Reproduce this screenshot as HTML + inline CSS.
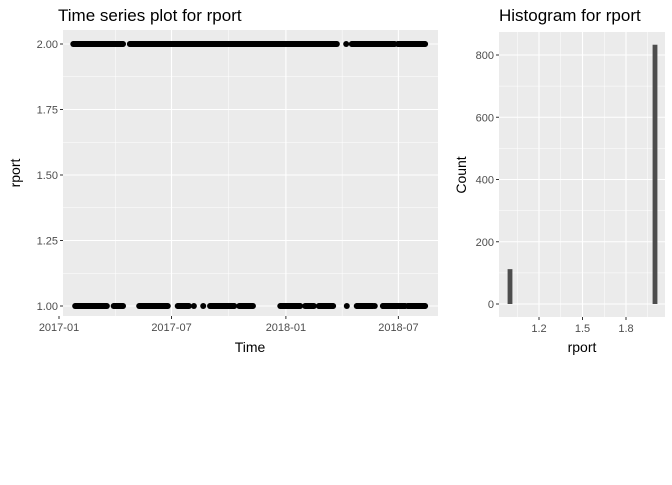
<!DOCTYPE html>
<html><head><meta charset="utf-8"><style>
body{margin:0;background:#fff;font-family:"Liberation Sans",sans-serif}
svg text{font-family:"Liberation Sans",sans-serif}
</style></head><body>
<svg id="c" width="672" height="480" xmlns="http://www.w3.org/2000/svg"></svg>
<script>
// Time series data: runs of daily observations as [startDay, endDay] (days since 2017-01-01)
const runsTop = [[23,103],[114,447],[462,462],[471,540],[545,589]];
const runsBottom = [[26,77],[88,103],[129,175],[191,209],[217,217],[232,232],[243,282],[290,312],[356,388],[396,410],[418,441],[463,463],[479,505],[508,508],[521,557],[561,589]];
const levelTop = 2, levelBottom = 1;
const yTicks = [1.00,1.25,1.50,1.75,2.00];
const xTickLabels = ["2017-01","2017-07","2018-01","2018-07"];
const xTickDays = [0,181,365,546];
// Histogram data
const histCats = [1, 2];
const histCounts = [112, 833];
const histYTicks = [0,200,400,600,800];
const histXTicks = [1.2,1.5,1.8];

const svg=document.getElementById('c');
const NS='http://www.w3.org/2000/svg';
function mk(t,a,p){const e=document.createElementNS(NS,t);for(const k in a)e.setAttribute(k,a[k]);(p||svg).appendChild(e);return e;}
function txt(s,a,p){const e=mk('text',a,p);e.textContent=s;return e;}

// ---- left panel
const L={x0:63,x1:438,y0:30,y1:316};
const xs=d=>59+d*0.6216;
const ys=v=>306-(v-1)*262;
const g1=mk('g',{});


mk('rect',{x:L.x0,y:L.y0,width:L.x1-L.x0,height:L.y1-L.y0,fill:'#ebebeb'},g1);
for(let i=0;i<yTicks.length-1;i++){const y=ys((yTicks[i]+yTicks[i+1])/2);mk('line',{x1:L.x0,x2:L.x1,y1:y,y2:y,stroke:'#fff','stroke-width':0.5},g1);}
for(let i=0;i<xTickDays.length-1;i++){const x=xs((xTickDays[i]+xTickDays[i+1])/2);mk('line',{x1:x,x2:x,y1:L.y0,y2:L.y1,stroke:'#fff','stroke-width':0.5},g1);}
yTicks.forEach(v=>{const y=ys(v);mk('line',{x1:L.x0,x2:L.x1,y1:y,y2:y,stroke:'#fff','stroke-width':1.1},g1);
 mk('line',{x1:L.x0-3,x2:L.x0,y1:y,y2:y,stroke:'#333'},g1);
 const t=txt(v.toFixed(2),{x:L.x0-5,y:y+4,'text-anchor':'end','font-size':11,fill:'#4d4d4d'},g1);
 });
xTickDays.forEach((d,i)=>{const x=xs(d);mk('line',{x1:x,x2:x,y1:L.y0,y2:L.y1,stroke:'#fff','stroke-width':1.1},g1);
 mk('line',{x1:x,x2:x,y1:L.y1,y2:L.y1+3,stroke:'#333'},g1);
 const t=txt(xTickLabels[i],{x:x,y:L.y1+15,'text-anchor':'middle','font-size':11,fill:'#4d4d4d'},g1);
 });
function drawRuns(runs,lvl){runs.forEach(r=>{for(let d=r[0];d<=r[1];d++){const c=mk('circle',{cx:xs(d),cy:ys(lvl),r:3,fill:'#000'},g1);
 }});}
drawRuns(runsTop,levelTop);drawRuns(runsBottom,levelBottom);
let t=txt('Time series plot for rport',{x:58,y:21,'font-size':17,fill:'#000'});
t=txt('Time',{x:250,y:352,'text-anchor':'middle','font-size':14,fill:'#000'});
t=txt('rport',{x:0,y:0,'text-anchor':'middle','font-size':14,fill:'#000',transform:'translate(20,173) rotate(-90)'});

// ---- histogram
const H={x0:499,x1:665,y0:32,y1:317};
const hx=v=>510+(v-1)*145;
const hy=c=>304-c*(249/800);
const g2=mk('g',{});


mk('rect',{x:H.x0,y:H.y0,width:H.x1-H.x0,height:H.y1-H.y0,fill:'#ebebeb'},g2);
for(let i=0;i<histYTicks.length;i++){const y=hy(histYTicks[i]+100);if(y>H.y0)mk('line',{x1:H.x0,x2:H.x1,y1:y,y2:y,stroke:'#fff','stroke-width':0.5},g2);}
[1.05,1.35,1.65,1.95].forEach(v=>{const x=hx(v);mk('line',{x1:x,x2:x,y1:H.y0,y2:H.y1,stroke:'#fff','stroke-width':0.5},g2);});
histYTicks.forEach(v=>{const y=hy(v);mk('line',{x1:H.x0,x2:H.x1,y1:y,y2:y,stroke:'#fff','stroke-width':1.1},g2);
 mk('line',{x1:H.x0-3,x2:H.x0,y1:y,y2:y,stroke:'#333'},g2);
 const t=txt(String(v),{x:H.x0-5,y:y+4,'text-anchor':'end','font-size':11,fill:'#4d4d4d'},g2);
 });
histXTicks.forEach(v=>{const x=hx(v);mk('line',{x1:x,x2:x,y1:H.y0,y2:H.y1,stroke:'#fff','stroke-width':1.1},g2);
 mk('line',{x1:x,x2:x,y1:H.y1,y2:H.y1+3,stroke:'#333'},g2);
 const t=txt(v.toFixed(1),{x:x,y:H.y1+15,'text-anchor':'middle','font-size':11,fill:'#4d4d4d'},g2);
 });
histCats.forEach((c,i)=>{const bw=0.0333*145;const x=hx(c)-bw/2;const y=hy(histCounts[i]);
 const b=mk('rect',{x:x,y:y,width:bw,height:hy(0)-y,fill:'#4d4d4d'},g2);
 });
t=txt('Histogram for rport',{x:499,y:21,'font-size':17,fill:'#000'});
t=txt('rport',{x:582,y:352,'text-anchor':'middle','font-size':14,fill:'#000'});
t=txt('Count',{x:0,y:0,'text-anchor':'middle','font-size':14,fill:'#000',transform:'translate(466,175) rotate(-90)'});
</script>
</body></html>
